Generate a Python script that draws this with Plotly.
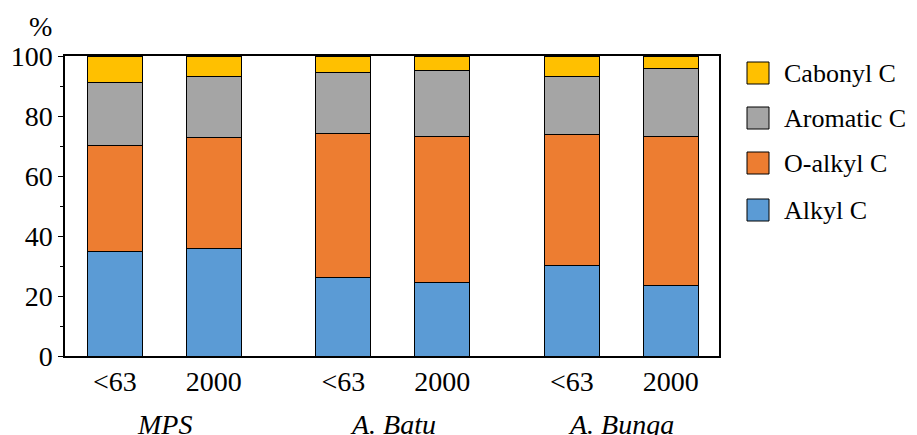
import plotly.graph_objects as go

samples = ["<63", "2000", "<63", "2000", "<63", "2000"]
groups = ["MPS", "A. Batu", "A. Bunga"]
series = ["Alkyl C", "O-alkyl C", "Aromatic C", "Cabonyl C"]
alkyl = [34.8, 36.0, 26.1, 24.6, 30.3, 23.4]
o_alkyl = [35.3, 36.7, 48.1, 48.5, 43.5, 49.9]
aromatic = [21.1, 20.4, 20.2, 22.0, 19.4, 22.4]
cabonyl = [8.8, 6.9, 5.6, 4.9, 6.8, 4.3]
y_ticks = [0, 20, 40, 60, 80, 100]

values = [alkyl, o_alkyl, aromatic, cabonyl]
colors = ["#5B9BD5", "#ED7D31", "#A5A5A5", "#FFC000"]

xpos = [0, 1, 2.307, 3.307, 4.614, 5.614]
group_x = [(xpos[0] + xpos[1]) / 2, (xpos[2] + xpos[3]) / 2, (xpos[4] + xpos[5]) / 2]

FONT = "Liberation Serif"
FS = 28

fig = go.Figure()
for name, vals, col in zip(series, values, colors):
    fig.add_trace(go.Bar(
        x=xpos, y=vals, name=name, width=0.556,
        marker=dict(color=col, line=dict(color="black", width=1)),
        showlegend=False,
    ))

# page has an 8px body margin: figure sized/margined to compensate
fig.update_layout(
    barmode="stack",
    width=909, height=427,
    margin=dict(l=57, r=198, t=48, b=79, autoexpand=False),
    plot_bgcolor="white", paper_bgcolor="white",
    font=dict(family=FONT, size=FS, color="black"),
)
fig.update_xaxes(
    range=[-0.503, 6.1], tickvals=xpos, ticktext=samples,
    showline=True, linecolor="black", linewidth=1.5, mirror=True,
    ticks="", showgrid=False, zeroline=False, automargin=False,
    tickfont=dict(family=FONT, size=FS),
)
fig.update_yaxes(
    range=[0, 100], tickvals=y_ticks,
    showline=True, linecolor="black", linewidth=1.5, mirror=True,
    ticks="outside", ticklen=5, tickcolor="black",
    minor=dict(dtick=10, ticks="outside", ticklen=3, tickcolor="black", showgrid=False),
    showgrid=False, zeroline=False, automargin=False,
    tickfont=dict(family=FONT, size=FS),
)

for gx, g in zip(group_x, groups):
    fig.add_annotation(x=gx, y=(356 - 407) / 300, xref="x", yref="paper", text=f"<i>{g}</i>",
                       showarrow=False, yanchor="top",
                       font=dict(family=FONT, size=FS))

fig.add_annotation(x=(40 - 65) / 654, y=(356 - 27) / 300, xref="paper", yref="paper",
                   text="%", showarrow=False, xanchor="center", yanchor="middle",
                   font=dict(family=FONT, size=FS))

# manual legend (top to bottom: Cabonyl, Aromatic, O-alkyl, Alkyl)
leg_y = [73, 118, 163, 210]
for name, col, ly in zip(series[::-1], colors[::-1], leg_y):
    y0 = (356 - (ly + 11)) / 300
    y1 = (356 - (ly - 11)) / 300
    x0 = (747 - 65) / 654
    x1 = (769 - 65) / 654
    fig.add_shape(type="rect", xref="paper", yref="paper", x0=x0, x1=x1, y0=y0, y1=y1,
                  fillcolor=col, line=dict(color="black", width=1))
    fig.add_annotation(x=(782 - 65) / 654, y=(356 - ly) / 300, xref="paper", yref="paper",
                       text=name, showarrow=False, xanchor="left", yanchor="middle",
                       font=dict(family=FONT, size=26))

fig.write_html("out.html")
